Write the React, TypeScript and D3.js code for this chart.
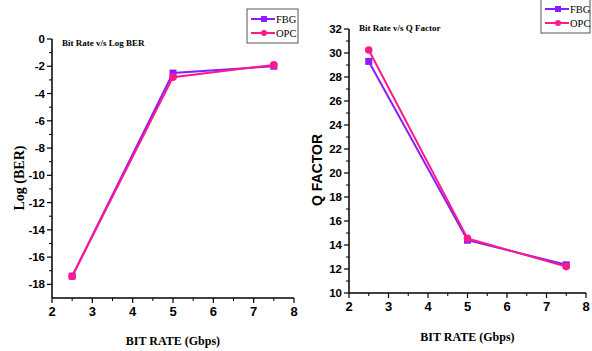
import React from "react";
import * as d3 from "d3";

const bitRates = [2.5, 5, 7.5];
const berFBG = [-17.4, -2.5, -2.0];
const berOPC = [-17.4, -2.8, -1.9];
const qFBG = [29.3, 14.4, 12.35];
const qOPC = [30.25, 14.55, 12.2];
const xTicks = [2, 3, 4, 5, 6, 7, 8];
const berTicks = [0, -2, -4, -6, -8, -10, -12, -14, -16, -18];
const qTicks = [10, 12, 14, 16, 18, 20, 22, 24, 26, 28, 30, 32];
const seriesNames = ["FBG", "OPC"];

const FBG_COLOR = "#8c1cff";
const OPC_COLOR = "#ff1a8c";
const tickFont = "'Liberation Sans Narrow', 'Liberation Sans', Arial, sans-serif";
const serif = "'Liberation Serif', 'Times New Roman', serif";

type PanelProps = {
  x0: number; x1: number; y0: number; y1: number;
  yDomain: [number, number];
  yTicks: number[];
  yMinor: number[];
  fbg: number[]; opc: number[];
  title: string; titleX: number; titleY: number;
  yLabel: string; yLabelX: number; yLabelFont: string; yLabelY: number;
  xLabelY: number;
  legend: { x: number; y: number; w: number; h: number };
};

function Panel(p: PanelProps) {
  const x = d3.scaleLinear().domain([2, 8]).range([p.x0, p.x1]);
  const y = d3.scaleLinear().domain(p.yDomain).range([p.y1, p.y0]);
  const line = d3.line<number>().x((_, i) => x(bitRates[i])).y((d) => y(d));
  const xMinor = d3.range(2.5, 8, 1);
  const sq = 7;
  return (
    <g>
      <line x1={p.x0} x2={p.x0} y1={p.y0} y2={p.y1} stroke="#000" strokeWidth={1.5} />
      <line x1={p.x0} x2={p.x1} y1={p.y1} y2={p.y1} stroke="#000" strokeWidth={1.5} />
      {p.yTicks.map((t) => (
        <g key={"yt" + t}>
          <line x1={p.x0 - 5} x2={p.x0} y1={y(t)} y2={y(t)} stroke="#000" strokeWidth={1.2} />
          <text x={p.x0 - 7} y={y(t)} dy="0.35em" textAnchor="end" fontFamily={tickFont} fontWeight="bold" fontSize={11.5}>
            {t}
          </text>
        </g>
      ))}
      {p.yMinor.map((t) => (
        <line key={"ym" + t} x1={p.x0 - 3} x2={p.x0} y1={y(t)} y2={y(t)} stroke="#000" strokeWidth={1} />
      ))}
      {xTicks.map((t) => (
        <g key={"xt" + t}>
          <line x1={x(t)} x2={x(t)} y1={p.y1} y2={p.y1 + 5} stroke="#000" strokeWidth={1.2} />
          <text x={x(t)} y={p.y1 + 18} textAnchor="middle" fontFamily={tickFont} fontWeight="bold" fontSize={13}>
            {t}
          </text>
        </g>
      ))}
      {xMinor.map((t) => (
        <line key={"xm" + t} x1={x(t)} x2={x(t)} y1={p.y1} y2={p.y1 + 3} stroke="#000" strokeWidth={1} />
      ))}
      <text x={p.titleX} y={p.titleY} fontFamily={serif} fontWeight="bold" fontSize={9}>
        {p.title}
      </text>
      <text
        transform={`translate(${p.yLabelX},${p.yLabelY}) rotate(-90)`}
        textAnchor="middle"
        fontFamily={p.yLabelFont}
        fontWeight="bold"
        fontSize={14}
      >
        {p.yLabel}
      </text>
      <text x={(p.x0 + p.x1) / 2} y={p.xLabelY} textAnchor="middle" fontFamily={serif} fontWeight="bold" fontSize={12}>
        BIT RATE (Gbps)
      </text>
      <path d={line(p.fbg) || ""} fill="none" stroke={FBG_COLOR} strokeWidth={2} />
      <path d={line(p.opc) || ""} fill="none" stroke={OPC_COLOR} strokeWidth={2} />
      {p.fbg.map((v, i) => (
        <rect key={"f" + i} x={x(bitRates[i]) - sq / 2} y={y(v) - sq / 2} width={sq} height={sq} fill={FBG_COLOR} />
      ))}
      {p.opc.map((v, i) => (
        <circle key={"o" + i} cx={x(bitRates[i])} cy={y(v)} r={3.8} fill={OPC_COLOR} />
      ))}
      <rect x={p.legend.x} y={p.legend.y} width={p.legend.w} height={p.legend.h} fill="#fff" stroke="#555" strokeWidth={1} />
      {seriesNames.map((n, i) => {
        const ly = p.legend.y + 10 + i * 14;
        const c = i === 0 ? FBG_COLOR : OPC_COLOR;
        const lx = p.legend.x + 4;
        return (
          <g key={n}>
            <line x1={lx} x2={lx + 24} y1={ly} y2={ly} stroke={c} strokeWidth={2} />
            {i === 0 ? (
              <rect x={lx + 10} y={ly - 3} width={6} height={6} fill={c} />
            ) : (
              <circle cx={lx + 13} cy={ly} r={3} fill={c} />
            )}
            <text x={lx + 25} y={ly} dy="0.35em" fontFamily={serif} fontSize={10.5}>
              {n}
            </text>
          </g>
        );
      })}
    </g>
  );
}

export default function App() {
  const berMinor = d3.range(-1, -19, -2);
  const qMinor = d3.range(11, 32, 2);
  return (
    <svg width={592} height={351} style={{ position: "absolute", left: 0, top: 0, background: "#fff" }}>
      <Panel
        x0={52} x1={294} y0={39} y1={298}
        yDomain={[-19, 0]} yTicks={berTicks} yMinor={berMinor}
        fbg={berFBG} opc={berOPC}
        title="Bit Rate v/s Log BER" titleX={62} titleY={46}
        yLabel="Log (BER)" yLabelX={24} yLabelY={178} yLabelFont={serif}
        xLabelY={345}
        legend={{ x: 247, y: 9, w: 51, h: 34 }}
      />
      <Panel
        x0={349} x1={586} y0={29} y1={293}
        yDomain={[10, 32]} yTicks={qTicks} yMinor={qMinor}
        fbg={qFBG} opc={qOPC}
        title="Bit Rate v/s Q Factor" titleX={359} titleY={31}
        yLabel="Q FACTOR" yLabelX={322} yLabelY={170} yLabelFont="'Liberation Sans', Arial, sans-serif"
        xLabelY={341}
        legend={{ x: 541, y: -1, w: 49, h: 34 }}
      />
    </svg>
  );
}
